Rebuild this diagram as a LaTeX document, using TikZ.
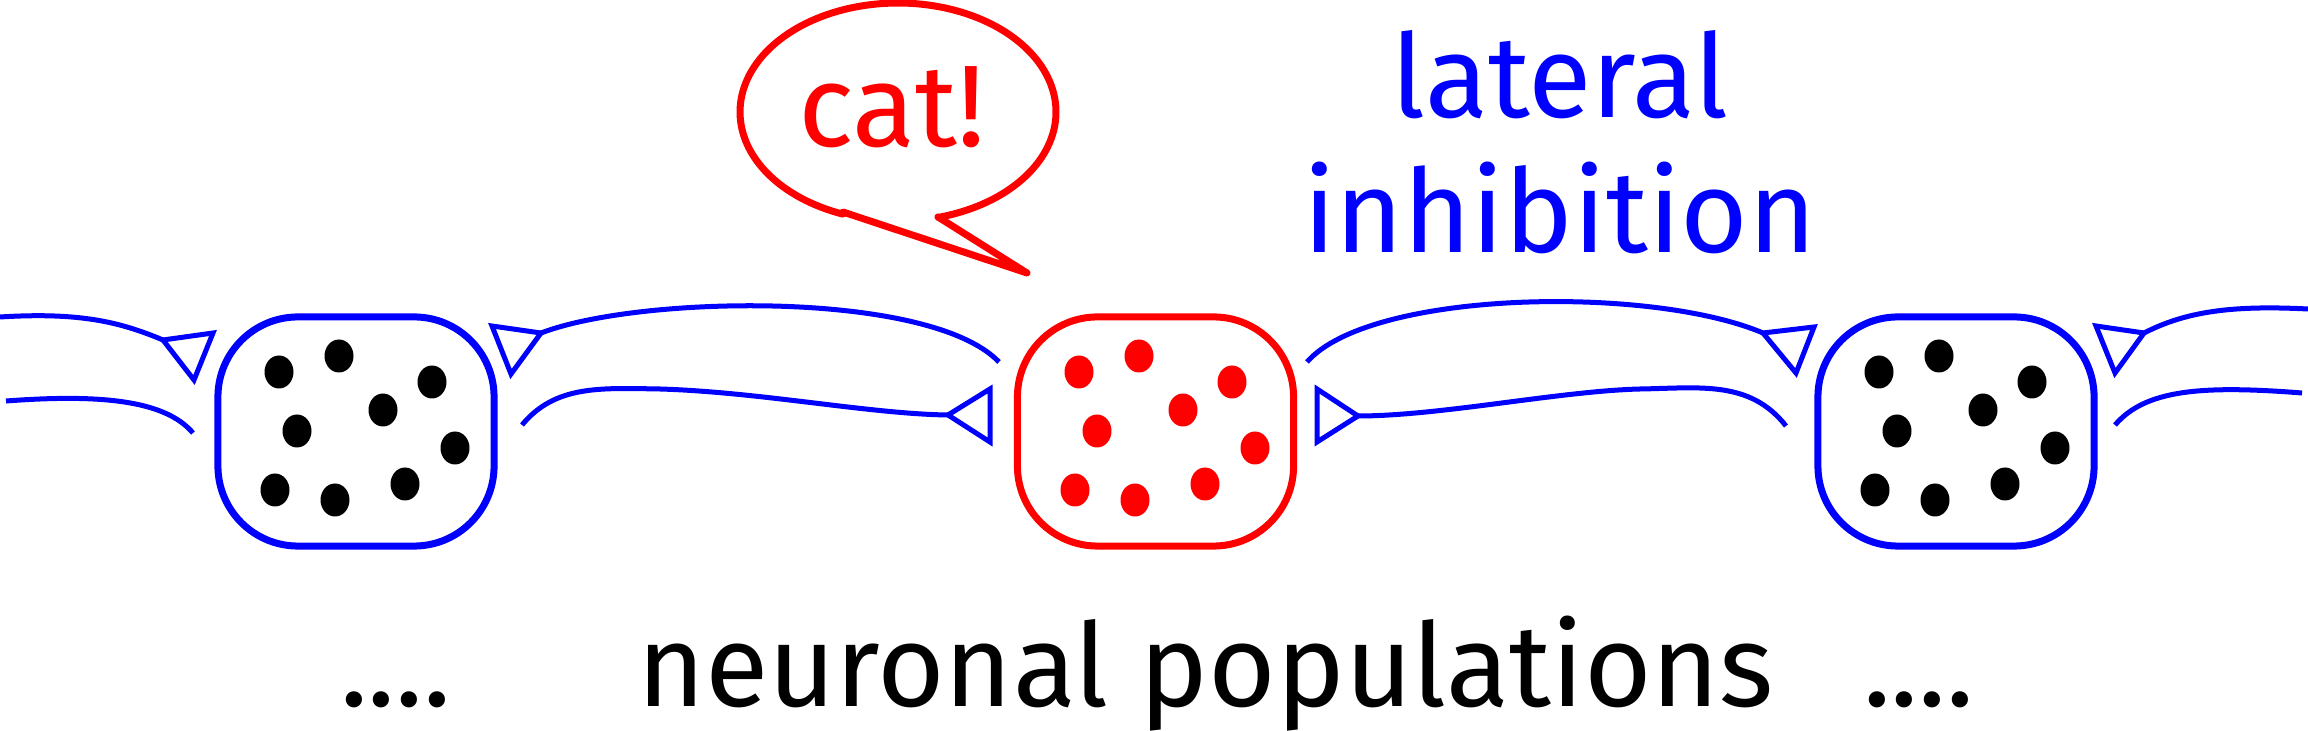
\documentclass[tikz,border=0pt]{standalone}
\usepackage{fontspec}
\setmainfont{Fira Sans}
\begin{document}
\begin{tikzpicture}[x=0.01cm,y=-0.01cm,
  pop/.style={line width=0.07cm, rounded corners=0.8cm, minimum width=2.76cm,
    minimum height=2.29cm, inner sep=0pt, outer sep=0pt},
  conn/.style={draw=blue, line width=0.05cm},
  syn/.style={draw=blue, line width=0.05cm, fill=white, line join=miter},
  lab/.style={font=\fontsize{33}{40}\selectfont, inner sep=0pt, outer sep=0pt},
  bubble/.style={draw=red, line width=0.07cm, line join=round, fill=white}
]
\useasboundingbox (0,0) rectangle (2308,731);

% populations
\node[pop, draw=blue] (L) at (356,431.5) {};
\node[pop, draw=red]  (M) at (1155.5,431.5) {};
\node[pop, draw=blue] (R) at (1956,431.5) {};

\foreach \bx/\col in {218/black,1018/red,1818/black}{
  \foreach \dx/\dy in {61/56,121/40,214/66,165/94,79/115,237/132,57/174,117/184,187/168}{
    \fill[\col] (\bx+\dx,316+\dy) ellipse [x radius=14.5, y radius=16.5];
  }
}

% named end points of connectors
\coordinate (aS) at (0,317);
\coordinate (bS) at (6,401);
\coordinate (bE) at (193,433);
\coordinate (cS) at (999,362);
\coordinate (dS) at (522,425);
\coordinate (eS) at (1307,362);
\coordinate (fS) at (1786,426);
\coordinate (gS) at (2308,309);
\coordinate (hS) at (2115,425);
\coordinate (hE) at (2302,393);

% synapse triangles
\coordinate (ta1) at (163,340); \coordinate (ta2) at (213,333); \coordinate (ta3) at (194,380);
\coordinate (tc1) at (541,333); \coordinate (tc2) at (492,326); \coordinate (tc3) at (511,374);
\coordinate (td1) at (948,415); \coordinate (td2) at (990,389); \coordinate (td3) at (990,442);
\coordinate (te1) at (1763,333); \coordinate (te2) at (1814,327); \coordinate (te3) at (1796,373);
\coordinate (tf1) at (1358,416); \coordinate (tf2) at (1317,389); \coordinate (tf3) at (1317,442);
\coordinate (tg1) at (2144,333); \coordinate (tg2) at (2096,326); \coordinate (tg3) at (2115,373);

% connectors
\draw[conn] (aS) .. controls (80,312) and (120,322) .. (ta1);
\draw[conn] (bS) .. controls (100,394) and (165,400) .. (bE);
\draw[conn] (cS) .. controls (930,290) and (640,295) .. (tc1);
\draw[conn] (dS) .. controls (555,385) and (600,388) .. (660,389) .. controls (760,392) and (870,414) .. (td1);
\draw[conn] (eS) .. controls (1370,290) and (1650,285) .. (te1);
\draw[conn] (fS) .. controls (1750,380) and (1700,388) .. (1640,389) .. controls (1560,391) and (1440,416) .. (tf1);
\draw[conn] (gS) .. controls (2230,305) and (2185,312) .. (tg1);
\draw[conn] (hS) .. controls (2145,390) and (2200,385) .. (hE);

\foreach \t in {a,c,d,e,f,g}{
  \draw[syn] (t\t1) -- (t\t2) -- (t\t3) -- cycle;
}

% speech bubble
\coordinate (bub1) at (843,212);
\coordinate (bub2) at (938,217);
\coordinate (tip) at (1027,273);
\draw[bubble] (bub1) -- plot[domain=110.4:435.3, samples=150] ({898+158*cos(\x)},{112+109*sin(\x)})
  -- (bub2) -- (tip) -- cycle;

% texts
\node[lab, red, anchor=base west] (cat) at (798,147) {cat!};
\node[lab, blue, anchor=base] (lat) at (1560,118) {lateral};
\node[lab, blue, anchor=base] (inh) at (1560,253) {inhibition};
\node[lab, anchor=base west] (pop) at (637,707) {neuronal populations};
\node[lab, anchor=base west] (dl) at (340,707) {....};
\node[lab, anchor=base west] (dr) at (1863,707) {....};
\end{tikzpicture}
\end{document}
